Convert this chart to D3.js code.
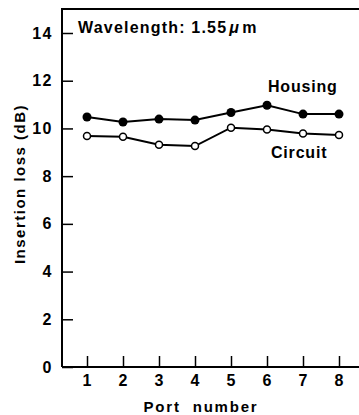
<!DOCTYPE html>
<html>
<head>
<meta charset="utf-8">
<script src="https://cdn.jsdelivr.net/npm/d3@7"></script>
<style>
  body { margin: 0; background: #fff; }
  svg { display: block; font-family: "Liberation Sans", Arial, sans-serif; font-weight: bold; }
</style>
</head>
<body>
<div class="chart"></div>
<script>

var ports = [1, 2, 3, 4, 5, 6, 7, 8];
var housing = [10.48, 10.27, 10.39, 10.35, 10.67, 10.97, 10.6, 10.6];
var circuit = [9.68, 9.65, 9.32, 9.26, 10.03, 9.96, 9.79, 9.72];
var yTicks = [0, 2, 4, 6, 8, 10, 12, 14];

var width = 359, height = 415;

var x = d3.scaleLinear()
    .domain([1, 8])
    .range([87, 339]);

var y = d3.scaleLinear()
    .domain([0, 14])
    .range([367, 33]);

var svg = d3.select('.chart')
    .append('svg')
    .attr('width', width)
    .attr('height', height);

// frame: left axis + top line
svg.append("path")
    .attr("d", "M62," + y(0) + "V9H" + width)
    .attr("fill", "none")
    .attr("stroke", "#000")
    .attr("stroke-width", 2);

// x axis
var xAxis = svg.append("g")
    .attr("transform", "translate(0," + y(0) + ")")
    .call(d3.axisTop(x).tickValues(ports).tickSize(11).tickFormat(""));
xAxis.select(".domain").attr("d", "M62,0H" + width).attr("stroke-width", 2);
xAxis.selectAll(".tick line").attr("stroke-width", 1.5);

svg.append("g")
    .selectAll("text")
    .data(ports)
    .enter()
    .append("text")
    .attr("x", d => x(d))
    .attr("y", 386)
    .attr("text-anchor", "middle")
    .attr("font-size", 16)
    .text(d => d);

// y axis
var yAxis = svg.append("g")
    .attr("transform", "translate(62,0)")
    .call(d3.axisRight(y).tickValues(yTicks).tickSize(11).tickFormat(""));
yAxis.select(".domain").remove();
yAxis.selectAll(".tick line").attr("stroke-width", 1.5);

svg.append("g")
    .selectAll("text")
    .data(yTicks)
    .enter()
    .append("text")
    .attr("x", 53)
    .attr("y", d => y(d) + 5.5)
    .attr("text-anchor", "end")
    .attr("font-size", 16)
    .attr("letter-spacing", 1.5)
    .text(d => d);

// axis titles
svg.append("text")
    .attr("transform", "translate(25,184) rotate(-90)")
    .attr("text-anchor", "middle")
    .attr("font-size", 15)
    .attr("letter-spacing", 1.5)
    .text("Insertion loss (dB)");

svg.append("text")
    .attr("x", 201)
    .attr("y", 412)
    .attr("text-anchor", "middle")
    .attr("font-size", 15)
    .attr("letter-spacing", 1.8)
    .attr("word-spacing", 6)
    .text("Port number");

// series
var line = d3.line()
    .x((d, i) => x(ports[i]))
    .y(d => y(d));

svg.append("path")
    .datum(housing)
    .attr("d", line)
    .attr("fill", "none")
    .attr("stroke", "#000")
    .attr("stroke-width", 2);

svg.append("path")
    .datum(circuit)
    .attr("d", line)
    .attr("fill", "none")
    .attr("stroke", "#000")
    .attr("stroke-width", 2);

svg.append("g")
    .selectAll("circle")
    .data(housing)
    .enter()
    .append("circle")
    .attr("cx", (d, i) => x(ports[i]))
    .attr("cy", d => y(d))
    .attr("r", 4.5)
    .attr("fill", "#000");

svg.append("g")
    .selectAll("circle")
    .data(circuit)
    .enter()
    .append("circle")
    .attr("cx", (d, i) => x(ports[i]))
    .attr("cy", d => y(d))
    .attr("r", 3.5)
    .attr("fill", "#fff")
    .attr("stroke", "#000")
    .attr("stroke-width", 1.5);

// labels
svg.append("text")
    .attr("x", 268)
    .attr("y", 92)
    .attr("font-size", 16)
    .attr("letter-spacing", 0.8)
    .text("Housing");

svg.append("text")
    .attr("x", 271)
    .attr("y", 158)
    .attr("font-size", 16)
    .attr("letter-spacing", 0.8)
    .text("Circuit");

var wl = svg.append("text")
    .attr("x", 78)
    .attr("y", 33)
    .attr("font-size", 16)
    .attr("letter-spacing", 1.2);
wl.append("tspan").text("Wavelength: 1.55");
wl.append("tspan").attr("font-style", "italic").attr("dx", 2).text("\u03bc");
wl.append("tspan").attr("dx", 2).text("m");

</script>
</body>
</html>
